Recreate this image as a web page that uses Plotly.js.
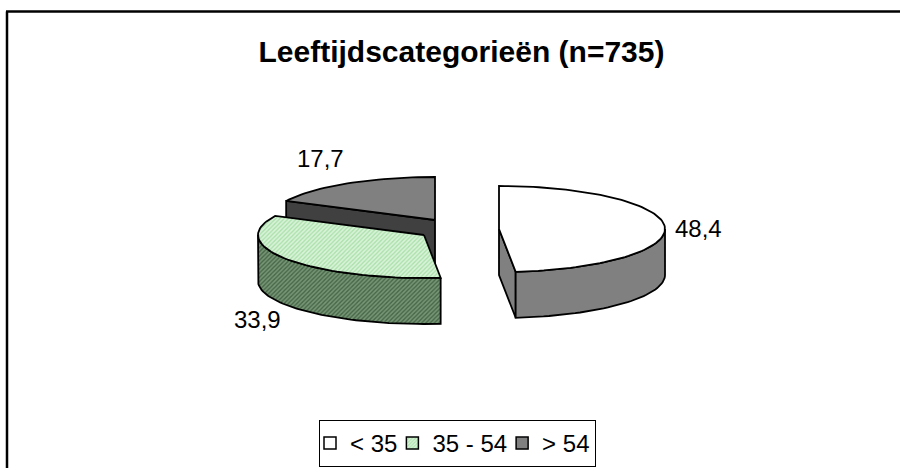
<!DOCTYPE html>
<html><head><meta charset="utf-8">
<script src="https://cdn.plot.ly/plotly-3.0.1.min.js"></script>
<style>html,body{margin:0;padding:0;background:#fff}</style>
</head><body><div id="chart" style="width:900px;height:468px"></div>
<script>
const categories = ['< 35', '35 - 54', '> 54'];
const shares = [48.4, 33.9, 17.7];
const chartTitle = 'Leeftijdscategorieën (n=735)';

// drawing constants of the tilted, exploded pie (pixel-scale axes)
const centres = [[499, 229], [424, 235], [435, 220]];
const labelPos = [[698, 228], [257, 319], [320, 158]];
const RX = 166, RY = 43, DEPTH = 46, LW = 1.8;
const FONT = 'Liberation Sans, Arial, sans-serif';
const topStyle = [
  {fillcolor: '#ffffff'},
  {fillcolor: 'rgba(0,0,0,0)', fillpattern: {shape: '/', size: 3, solidity: 0.5, bgcolor: '#aee2ae', fgcolor: '#dcf4dc'}},
  {fillcolor: '#808080'}
];
const sideStyle = [
  {fillcolor: '#808080'},
  {fillcolor: 'rgba(0,0,0,0)', fillpattern: {shape: '/', size: 3, solidity: 0.5, bgcolor: '#4a684a', fgcolor: '#789878'}},
  {fillcolor: '#404040'}
];
const legendMarker = [
  {color: '#ffffff'},
  {color: '#c8f0c8', pattern: {shape: '/', size: 3, solidity: 0.5, bgcolor: '#aee2ae', fgcolor: '#dcf4dc'}},
  {color: '#808080'}
];

const pt = (c, deg, dz) => {
  const a = deg * Math.PI / 180;
  return [c[0] + RX * Math.sin(a), c[1] - RY * Math.cos(a) + (dz || 0)];
};
const arc = (c, a0, a1, dz) => {
  const out = [], n = Math.max(2, Math.ceil(Math.abs(a1 - a0) / 2));
  for (let i = 0; i <= n; i++) out.push(pt(c, a0 + (a1 - a0) * i / n, dz));
  return out;
};
const poly = (pts, style) => Object.assign({
  type: 'scatter', mode: 'lines', fill: 'toself', showlegend: false, hoverinfo: 'skip',
  x: pts.map(p => p[0]), y: pts.map(p => p[1]),
  line: {color: '#000', width: LW, shape: 'linear'}
}, style);

const total = shares.reduce((a, b) => a + b, 0);
let cum = 0;
const spans = shares.map(v => { const s = [cum / total * 360, (cum + v) / total * 360]; cum += v; return s; });

const traces = [];
[2, 1, 0].forEach(i => {
  const c = centres[i], [a0, a1] = spans[i];
  if (i === 0) {
    const e = pt(c, a1);
    traces.push(poly([c, e, [e[0], e[1] + DEPTH], [c[0], c[1] + DEPTH], c], sideStyle[i]));
  }
  if (i === 2) {
    const s = pt(c, a0);
    traces.push(poly([c, s, [s[0], s[1] + DEPTH], [c[0], c[1] + DEPTH], c], sideStyle[i]));
  }
  const f0 = Math.max(a0, 90), f1 = Math.min(a1, 270);
  if (f1 > f0) {
    const upper = arc(c, f0, f1), lower = arc(c, f1, f0, DEPTH);
    traces.push(poly(upper.concat(lower, [upper[0]]), sideStyle[i]));
  }
  const rim = arc(c, a0, a1);
  traces.push(poly([c].concat(rim, [c]), topStyle[i]));
});

categories.forEach((name, i) => traces.push({
  type: 'bar', name: name, x: [null], y: [shares[i]], hoverinfo: 'skip',
  marker: Object.assign({line: {color: '#000', width: 1.5}}, legendMarker[i])
}));

const layout = {
  width: 900, height: 468, autosize: false,
  margin: {l: 0, r: 0, t: 0, b: 0, autoexpand: false},
  paper_bgcolor: '#fff', plot_bgcolor: '#fff',
  font: {family: FONT, color: '#000', size: 24},
  title: {text: '<b>' + chartTitle + '</b>', font: {family: FONT, size: 30, color: '#000'},
          x: 461.5 / 900, xanchor: 'center', y: 1 - 51 / 468, yanchor: 'middle'},
  xaxis: {visible: false, range: [0, 900], fixedrange: true},
  yaxis: {visible: false, range: [468, 0], fixedrange: true},
  showlegend: true,
  legend: {orientation: 'h', x: 457.5 / 900, xanchor: 'center', y: 1 - 420 / 468, yanchor: 'top',
           indentation: -10, bordercolor: '#000', borderwidth: 1, bgcolor: '#fff',
           font: {family: FONT, size: 24, color: '#000'}},
  shapes: [
    {type: 'line', xref: 'x', yref: 'y', x0: 7, x1: 7, y0: 11.5, y1: 468, line: {color: '#000', width: 2.5}},
    {type: 'line', xref: 'x', yref: 'y', x0: 6, x1: 900, y0: 11.5, y1: 11.5, line: {color: '#000', width: 2.5}}
  ],
  annotations: shares.map((v, i) => ({
    xref: 'x', yref: 'y', x: labelPos[i][0], y: labelPos[i][1], showarrow: false,
    text: v.toFixed(1).replace('.', ','), font: {family: FONT, size: 24, color: '#000'}
  }))
};
Plotly.newPlot('chart', traces, layout, {displayModeBar: false, staticPlot: true});
</script></body></html>
